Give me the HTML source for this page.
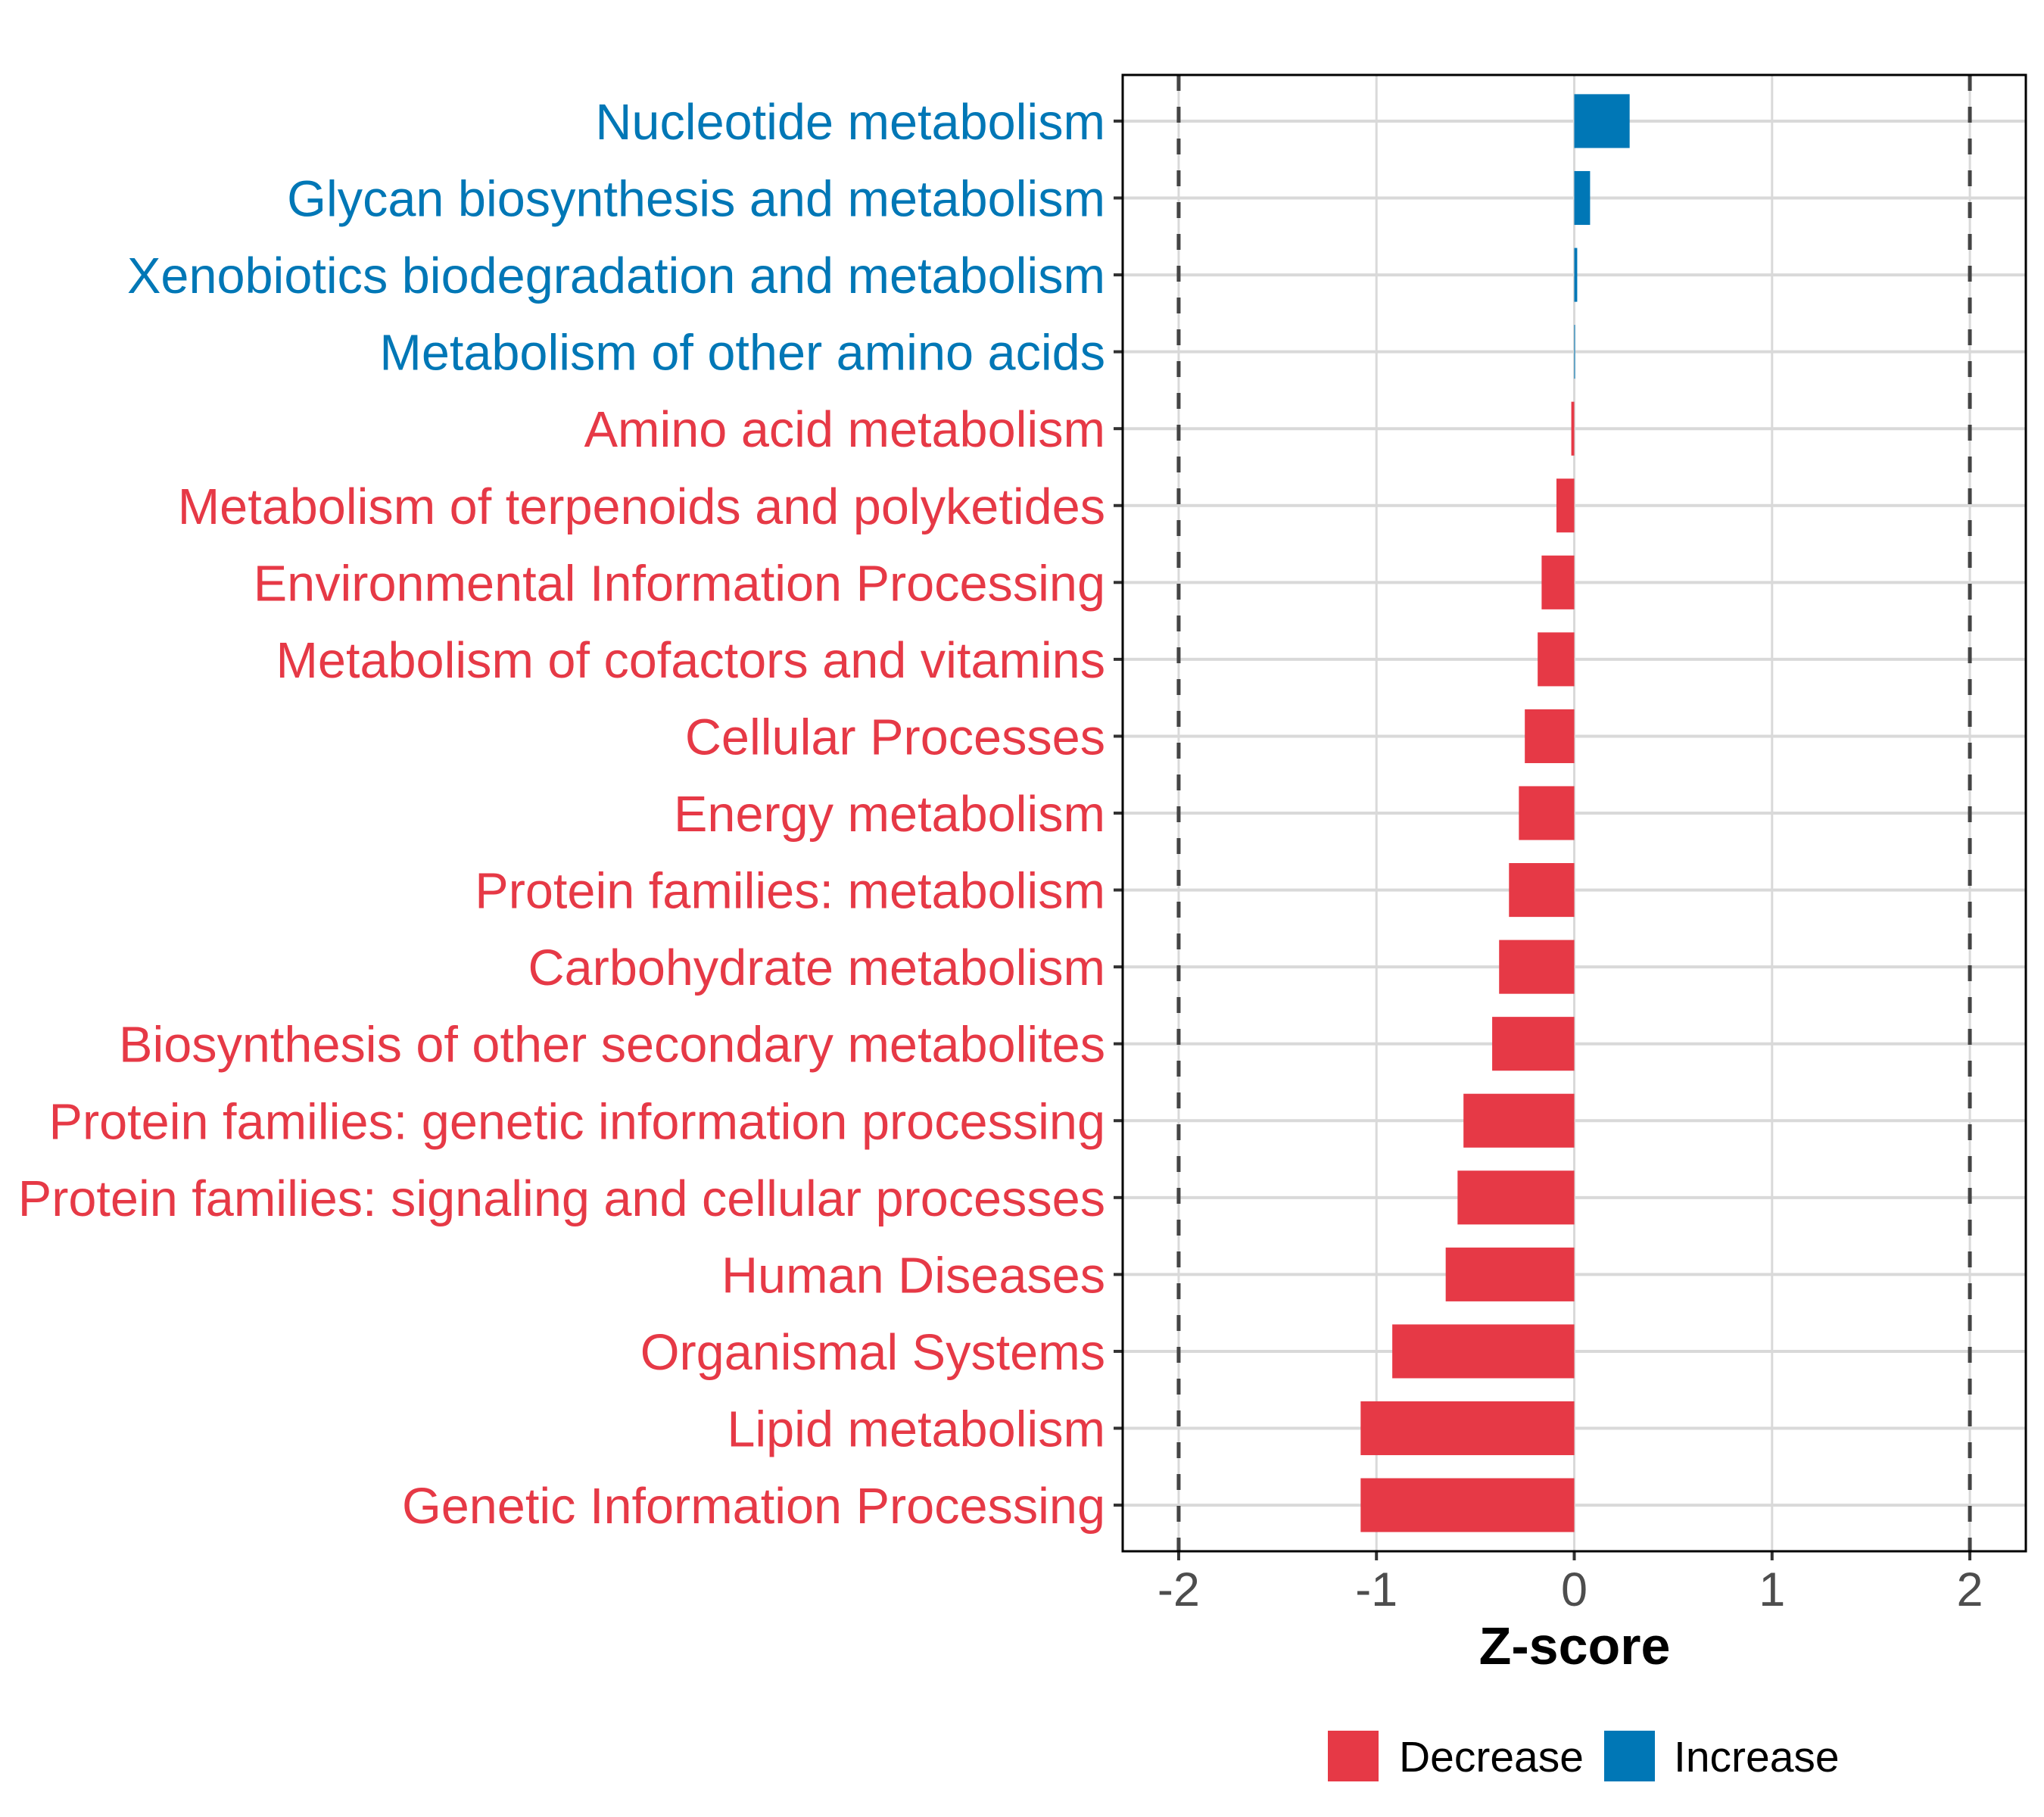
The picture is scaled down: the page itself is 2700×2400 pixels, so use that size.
<!DOCTYPE html>
<html><head><meta charset="utf-8"><style>
html,body{margin:0;padding:0;background:#fff;}
svg{display:block;font-family:"Liberation Sans",Arial,sans-serif;}
</style></head><body>
<svg id="chart" width="2700" height="2400" viewBox="0 0 2700 2400" xmlns="http://www.w3.org/2000/svg">
<rect x="0" y="0" width="2700" height="2400" fill="#fff"/>
<g id="grid"></g><g id="bars"></g><g id="ylabels"></g><g id="xticks"></g>
<rect x="1483" y="99" width="1193" height="1950" fill="none" stroke="#000" stroke-width="3"/>
<text x="2080" y="2198" text-anchor="middle" font-size="70" font-weight="bold" fill="#000">Z-score</text>
<g>
<rect x="1754" y="2286" width="67" height="67" fill="#E63946"/>
<text x="1848" y="2340" font-size="57" fill="#000">Decrease</text>
<rect x="2119" y="2286" width="67" height="67" fill="#0077B6"/>
<text x="2211" y="2340" font-size="57" fill="#000">Increase</text>
</g>
</svg>
<script>
const categories = ["Nucleotide metabolism","Glycan biosynthesis and metabolism","Xenobiotics biodegradation and metabolism","Metabolism of other amino acids","Amino acid metabolism","Metabolism of terpenoids and polyketides","Environmental Information Processing","Metabolism of cofactors and vitamins","Cellular Processes","Energy metabolism","Protein families: metabolism","Carbohydrate metabolism","Biosynthesis of other secondary metabolites","Protein families: genetic information processing","Protein families: signaling and cellular processes","Human Diseases","Organismal Systems","Lipid metabolism","Genetic Information Processing"];
const zscores = [0.28,0.08,0.015,0.004,-0.015,-0.09,-0.165,-0.185,-0.25,-0.28,-0.33,-0.38,-0.415,-0.56,-0.59,-0.65,-0.92,-1.08,-1.08];
const xTicks = [-2,-1,0,1,2];
const thresholds = [-2,2];

const NS="http://www.w3.org/2000/svg";
const px0=1483, px1=2676, py0=99, py1=2049;
const xmin=-2.283, xmax=2.283;
function xs(v){return px0+(v-xmin)/(xmax-xmin)*(px1-px0);}
const step=(py1-py0)/(categories.length-1+1.2);
function ys(i){return py0+0.6*step+i*step;}
function mk(tag,attrs,parent){const e=document.createElementNS(NS,tag);for(const k in attrs)e.setAttribute(k,attrs[k]);parent.appendChild(e);return e;}
const grid=document.getElementById('grid'),bars=document.getElementById('bars'),yl=document.getElementById('ylabels'),xt=document.getElementById('xticks');

xTicks.forEach(t=>{
  const l=mk('line',{x1:xs(t),x2:xs(t),y1:py0,y2:py1,stroke:'#d9d9d9','stroke-width':3},grid);
  
  
  const tk=mk('line',{x1:xs(t),x2:xs(t),y1:py1,y2:py1+12,stroke:'#333','stroke-width':4},xt);
  
  
  const tx=mk('text',{x:xs(t),y:py1+72,'text-anchor':'middle','font-size':63,fill:'#4d4d4d'},xt);
  tx.textContent=String(t);
  
  
});
categories.forEach((c,i)=>{
  const y=ys(i);
  const g=mk('line',{x1:px0,x2:px1,y1:y,y2:y,stroke:'#d9d9d9','stroke-width':4},grid);
  
  
  const tk=mk('line',{x1:px0-12,x2:px0,y1:y,y2:y,stroke:'#333','stroke-width':4},yl);
  
  
  const v=zscores[i];
  const col=v>=0?'#0077B6':'#E63946';
  const h=step*0.7;
  const b=mk('rect',{x:Math.min(xs(0),xs(v)),y:y-h/2,width:Math.max(Math.abs(xs(v)-xs(0)),1),height:h,fill:col},bars);
  
  
  const t=mk('text',{x:1460,y:y+24,'text-anchor':'end','font-size':66.6,fill:col},yl);
  t.textContent=c;
  
  
});
thresholds.forEach(t=>{
  const d=mk('line',{x1:xs(t),x2:xs(t),y1:py0,y2:py1,stroke:'#444','stroke-width':5,'stroke-dasharray':'21,21'},bars);
  
  
});
</script>
</body></html>
